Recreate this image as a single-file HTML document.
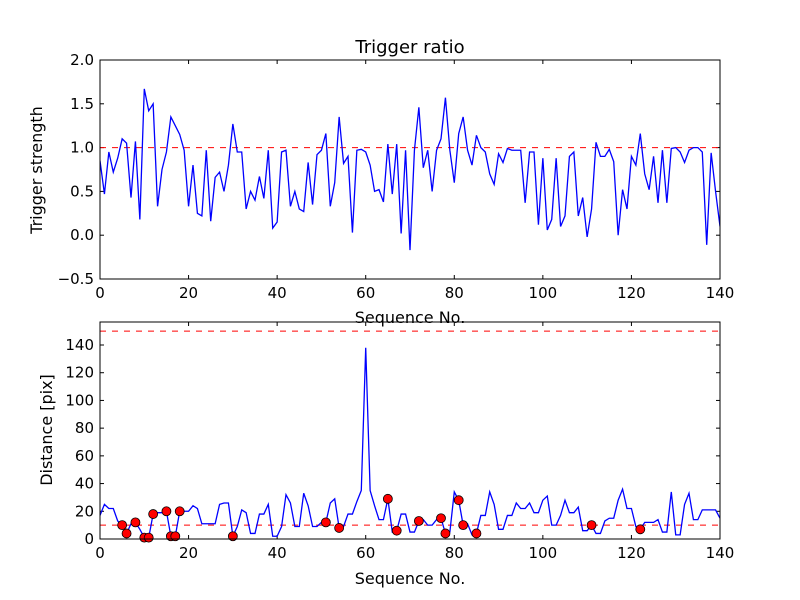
<!DOCTYPE html>
<html><head><meta charset="utf-8"><style>
body{margin:0;background:#fff}
svg{display:block;font-family:"DejaVu Sans","Liberation Sans",sans-serif}
</style></head><body>
<svg id="c" width="800" height="600">
<rect width="800" height="600" fill="#fff"/>
</svg>
<script>
const xTicks=[0,20,40,60,80,100,120,140];
const topYTicks=[-0.5,0.0,0.5,1.0,1.5,2.0];
const topYLabels=["\u22120.5","0.0","0.5","1.0","1.5","2.0"];
const botYTicks=[0,20,40,60,80,100,120,140];
const topThreshold=1.0;
const botThresholds=[10,150];
const ratio=[0.85,0.47,0.95,0.72,0.88,1.1,1.05,0.43,1.07,0.18,1.67,1.42,1.5,0.33,0.75,0.95,1.35,1.25,1.15,0.97,0.33,0.8,0.25,0.22,0.97,0.16,0.66,0.72,0.5,0.8,1.27,0.95,0.95,0.3,0.5,0.4,0.67,0.42,0.97,0.08,0.15,0.95,0.97,0.33,0.5,0.3,0.27,0.83,0.35,0.92,0.97,1.16,0.33,0.6,1.35,0.82,0.9,0.03,0.97,0.98,0.95,0.8,0.5,0.52,0.38,1.04,0.47,1.04,0.02,0.97,-0.17,0.97,1.46,0.77,0.97,0.5,0.97,1.1,1.57,0.97,0.6,1.16,1.35,0.97,0.8,1.14,1.0,0.95,0.7,0.58,0.93,0.83,0.99,0.97,0.97,0.97,0.37,0.95,0.95,0.12,0.88,0.06,0.18,0.88,0.1,0.22,0.9,0.95,0.22,0.43,-0.02,0.3,1.06,0.9,0.9,0.98,0.84,0.0,0.52,0.3,0.9,0.8,1.16,0.7,0.52,0.9,0.37,0.97,0.37,0.99,1.0,0.95,0.83,0.97,1.0,1.0,0.95,-0.11,0.94,0.5,0.1];
const dist=[17,25,22,22,13,10,4,11,12,7,1,1,18,19,19,20,2,2,20,20,20,24,22,11,11,11,11,25,26,26,2,9,21,19,4,4,18,18,25,2,2,9,32,26,9,9,33,24,9,9,12,12,26,29,8,9,18,18,27,35,138,35,24,14,14,29,5,6,18,18,5,5,13,14,10,10,14,15,4,5,34,28,10,11,3,4,17,17,34,25,7,7,17,17,26,22,22,26,19,19,28,31,10,10,17,28,19,19,23,6,6,10,4,4,13,15,15,28,36,22,22,9,7,12,12,12,14,5,5,34,3,3,25,33,14,14,21,21,21,21,15];
const flagged=[5,6,8,10,11,12,15,16,17,18,30,51,54,65,67,72,77,78,81,82,85,111,122];

const svg=document.getElementById('c');
const NS='http://www.w3.org/2000/svg';
function mk(tag,attrs,parent){const e=document.createElementNS(NS,tag);for(const k in attrs)e.setAttribute(k,attrs[k]);(parent||svg).appendChild(e);return e;}
const X0=100,X1=720;
function xs(v){return X0+(v-0)/140*(X1-X0);}
const T={top:60,bot:279,min:-0.5,max:2.0};
const B={top:322,bot:539,min:0,max:156.6};
function yt(v){return T.bot-(v-T.min)/(T.max-T.min)*(T.bot-T.top);}
function yb(v){return B.bot-(v-B.min)/(B.max-B.min)*(B.bot-B.top);}

function axes(P,yf,yticks,ylabels,name){
  const g=mk('g',{});
  
  
  xTicks.forEach(t=>{
    const x=xs(t);
    mk('line',{x1:x,x2:x,y1:P.bot,y2:P.bot-4,stroke:'#000'},g);
    mk('line',{x1:x,x2:x,y1:P.top,y2:P.top+4,stroke:'#000'},g);
    const tx=mk('text',{x:x,y:P.bot+19,'text-anchor':'middle','font-size':'15'},g);
    tx.textContent=t;
    
    
  });
  yticks.forEach((t,i)=>{
    const y=yf(t);
    mk('line',{x1:X0,x2:X0+4,y1:y,y2:y,stroke:'#000'},g);
    mk('line',{x1:X1,x2:X1-4,y1:y,y2:y,stroke:'#000'},g);
    const tx=mk('text',{x:X0-6,y:y+5,'text-anchor':'end','font-size':'15'},g);
    tx.textContent=ylabels[i];
    
    
  });
  return g;
}
function frame(P,name){
  const r=mk('rect',{x:X0,y:P.top,width:X1-X0,height:P.bot-P.top,fill:'none',stroke:'#000','stroke-width':1});
  
  
}
function clip(id,P){const c=mk('clipPath',{id:id});mk('rect',{x:X0,y:P.top,width:X1-X0,height:P.bot-P.top},c);}
clip('ct',T);clip('cb',B);

// top
axes(T,yt,topYTicks,topYLabels,'top');
let l=mk('line',{x1:X0,x2:X1,y1:yt(topThreshold),y2:yt(topThreshold),stroke:'#f00','stroke-width':1,'stroke-dasharray':'6,6','clip-path':'url(#ct)'});


let p=mk('polyline',{points:ratio.map((v,i)=>xs(i)+','+yt(v)).join(' '),fill:'none',stroke:'#00f','stroke-width':1.3,'clip-path':'url(#ct)'});


frame(T,'top');
let t=mk('text',{x:410,y:53,'text-anchor':'middle','font-size':'18'});t.textContent='Trigger ratio';


t=mk('text',{x:410,y:323,'text-anchor':'middle','font-size':'16'});t.textContent='Sequence No.';


t=mk('text',{x:42,y:170,'text-anchor':'middle','font-size':'16',transform:'rotate(-90 42 170)'});t.textContent='Trigger strength';



// bottom
axes(B,yb,botYTicks,botYTicks.map(String),'bottom');
botThresholds.forEach(v=>{
  const ln=mk('line',{x1:X0,x2:X1,y1:yb(v),y2:yb(v),stroke:'#f00','stroke-width':1,'stroke-dasharray':'6,6','clip-path':'url(#cb)'});
  
  
});
p=mk('polyline',{points:dist.map((v,i)=>xs(i)+','+yb(v)).join(' '),fill:'none',stroke:'#00f','stroke-width':1.3,'clip-path':'url(#cb)'});


flagged.forEach(i=>{
  const c=mk('circle',{cx:xs(i),cy:yb(dist[i]),r:4.5,fill:'#f00',stroke:'#000','stroke-width':0.8});
  
  
});
frame(B,'bottom');
t=mk('text',{x:410,y:584,'text-anchor':'middle','font-size':'16'});t.textContent='Sequence No.';


t=mk('text',{x:52,y:430,'text-anchor':'middle','font-size':'16',transform:'rotate(-90 52 430)'});t.textContent='Distance [pix]';


</script>
</body></html>
